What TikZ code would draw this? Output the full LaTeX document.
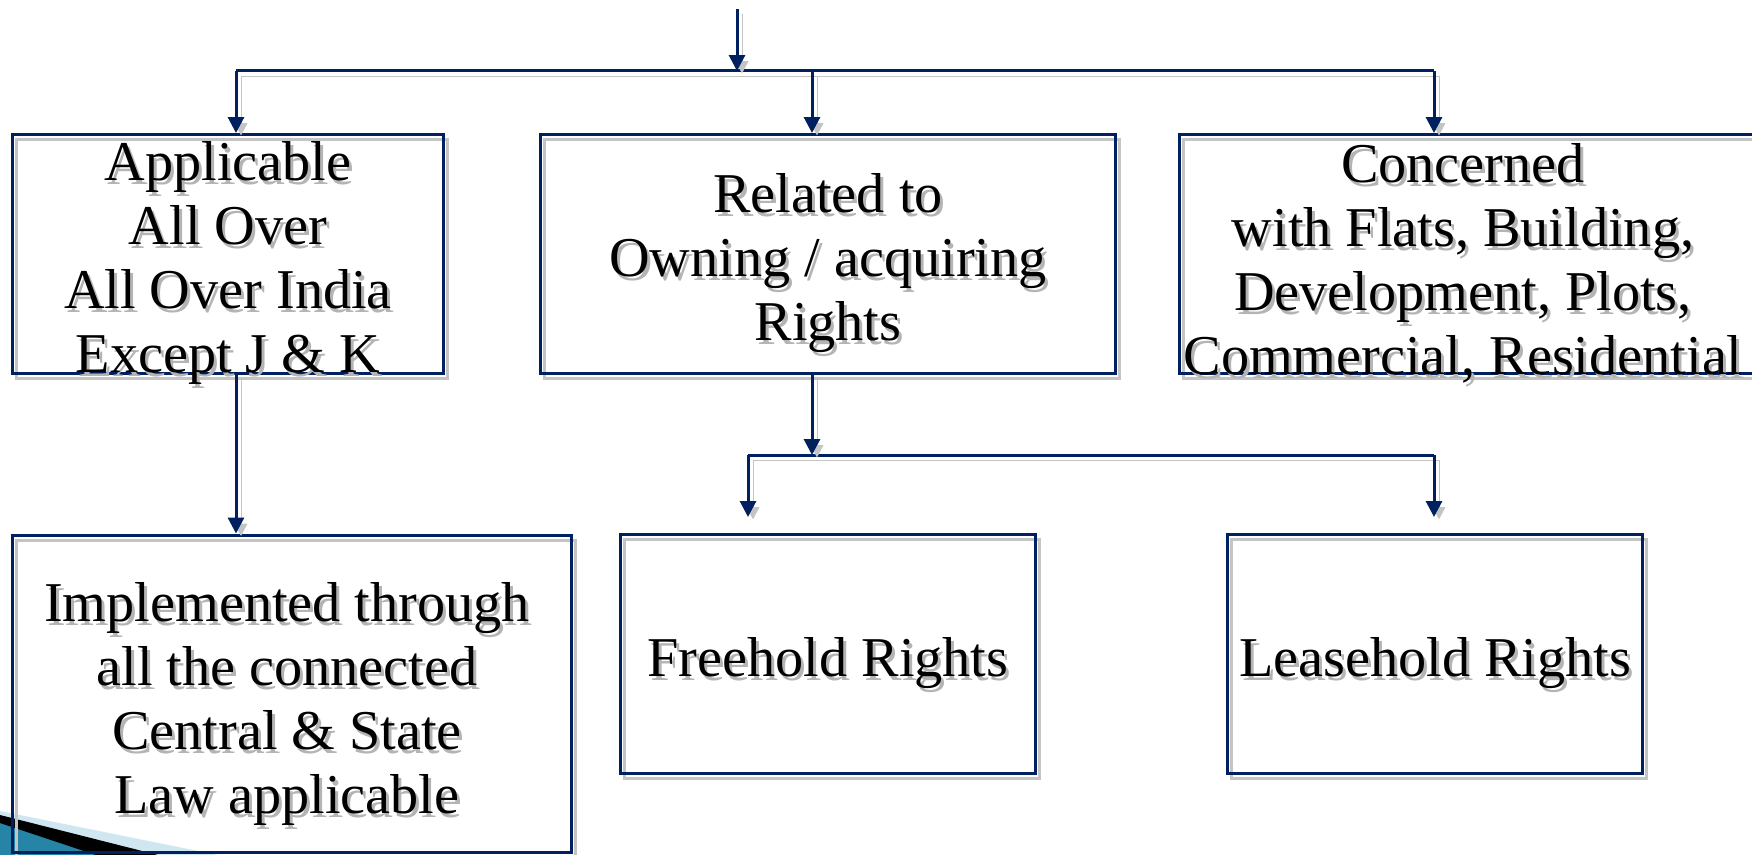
\documentclass[tikz,border=0pt]{standalone}
\usepackage{fontspec}
\setmainfont{Liberation Serif}
\usetikzlibrary{arrows.meta}
\definecolor{navy}{RGB}{0,32,96}
\definecolor{boxgray}{RGB}{196,196,196}
\definecolor{txtgray}{RGB}{180,180,180}
\definecolor{teal1}{RGB}{38,132,166}
\definecolor{paleblue}{RGB}{208,230,240}
\tikzset{
  box/.style={draw=navy, line width=0.06cm, inner sep=0pt,
    preaction={draw=boxgray, transform canvas={shift={(4,5)}}}},
  boxtext/.style={align=center, font=\fontsize{32}{36.4}\selectfont},
  shtext/.style={boxtext, text=txtgray},
  link/.style={navy, line width=0.06cm,
    preaction={draw=boxgray, transform canvas={shift={(5,5)}}}},
  tip/.style={-{Triangle[width=0.32cm,length=0.32cm]}}
}
\begin{document}
\begin{tikzpicture}[x=0.02cm, y=-0.02cm]
    \useasboundingbox (0,0) rectangle (1752,855);
    \clip (0,0) rectangle (1752,855);

    % corner swoosh
    \fill[teal1] (0,822) -- (97,855) -- (0,855) -- cycle;
    \fill[paleblue] (0,811) -- (218,855) -- (150,855) -- (0,817) -- cycle;
    \fill[black] (0,815) -- (158,855) -- (96,855) -- (0,823) -- cycle;

    % boxes
    \node[box, minimum width=8.64cm, minimum height=4.78cm] (A) at (228,254) {};
    \node[box, minimum width=11.52cm, minimum height=4.78cm] (B) at (828,254) {};
    \node[box, minimum width=11.6cm, minimum height=4.78cm] (C) at (1469,254) {};
    \node[box, minimum width=11.2cm, minimum height=6.36cm] (D) at (292,694) {};
    \node[box, minimum width=8.3cm, minimum height=4.78cm] (E) at (828,654) {};
    \node[box, minimum width=8.32cm, minimum height=4.78cm] (F) at (1435,654) {};

    % text shadows
    \node[shtext] (sA) at ([shift={(3,13)}]A.center) {Applicable\\ All Over\\ All Over India\\ Except J \& K};
    \node[shtext] (sB) at ([shift={(3,13)}]B.center) {Related to\\ Owning / acquiring\\ Rights};
    \node[shtext] (sC) at ([shift={(-3,13)}]C.center) {Concerned\\ with Flats, Building,\\ Development, Plots,\\ Commercial, Residential};
    \node[shtext] (sD) at ([shift={(-2,14)}]D.center) {Implemented through\\ all the connected\\ Central \& State\\ Law applicable};
    \node[shtext] (sE) at ([shift={(3,13)}]E.center) {Freehold Rights};
    \node[shtext] (sF) at ([shift={(3,13)}]F.center) {Leasehold Rights};

    % texts
    \node[boxtext] (tA) at ([shift={(0,9)}]A.center) {Applicable\\ All Over\\ All Over India\\ Except J \& K};
    \node[boxtext] (tB) at ([shift={(0,9)}]B.center) {Related to\\ Owning / acquiring\\ Rights};
    \node[boxtext] (tC) at ([shift={(-6,9)}]C.center) {Concerned\\ with Flats, Building,\\ Development, Plots,\\ Commercial, Residential};
    \node[boxtext] (tD) at ([shift={(-5,10)}]D.center) {Implemented through\\ all the connected\\ Central \& State\\ Law applicable};
    \node[boxtext] (tE) at ([shift={(0,9)}]E.center) {Freehold Rights};
    \node[boxtext] (tF) at ([shift={(0,9)}]F.center) {Leasehold Rights};

    % upper bus
    \coordinate (src) at (737,9);
    \coordinate (bus) at (737,71);
    \coordinate (busL) at (236,71);
    \coordinate (busM) at (812,71);
    \coordinate (busR) at (1434,71);
    \draw[link] (busL) -- (busR);
    \draw[link, tip] (src) -- (bus);
    \draw[link, tip] (busL) -- (busL |- A.north);
    \draw[link, tip] (busM) -- (busM |- B.north);
    \draw[link, tip] (busR) -- (busR |- C.north);

    % A to D
    \draw[link, tip] (busL |- A.south) -- (busL |- D.north);

    % lower bus
    \coordinate (bus2) at (812,455);
    \coordinate (bus2L) at (748,455);
    \coordinate (bus2R) at (1434,455);
    \coordinate (tipE) at (748,517);
    \coordinate (tipF) at (1434,517);
    \draw[link] (bus2L) -- (bus2R);
    \draw[link, tip] (bus2 |- B.south) -- (bus2);
    \draw[link, tip] (bus2L) -- (tipE);
    \draw[link, tip] (bus2R) -- (tipF);
\end{tikzpicture}
\end{document}
